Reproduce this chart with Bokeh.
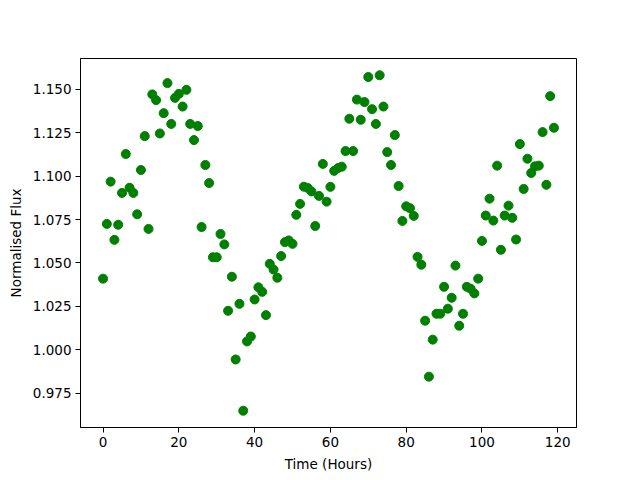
from bokeh.plotting import figure
from bokeh.models import Range1d, FixedTicker, NumeralTickFormatter
from bokeh.embed import file_html
from bokeh.resources import INLINE

time_hours = list(range(120))
flux = [
    1.041, 1.0725, 1.0968, 1.0633, 1.072, 1.0903, 1.1127, 1.0933, 1.0903, 1.078,
    1.1035, 1.123, 1.0696, 1.147, 1.1437, 1.1245, 1.1362, 1.1535, 1.130, 1.145,
    1.1473, 1.140, 1.1496, 1.130, 1.1207, 1.1288, 1.0707, 1.1064, 1.096, 1.0533,
    1.0533, 1.0667, 1.0607, 1.0225, 1.0421, 0.9945, 1.0265, 0.965, 1.0049, 1.0077,
    1.029, 1.036, 1.0334, 1.020, 1.0495, 1.0462, 1.0415, 1.054, 1.062, 1.063,
    1.061, 1.0777, 1.084, 1.0939, 1.0932, 1.0912, 1.0713, 1.0886, 1.107, 1.0853,
    1.0938, 1.103, 1.1046, 1.1054, 1.1144, 1.133, 1.1144, 1.144, 1.1324, 1.1426,
    1.157, 1.1385, 1.130, 1.158, 1.140, 1.1138, 1.1064, 1.1236, 1.0943, 1.0742,
    1.0826, 1.0815, 1.0771, 1.0535, 1.049, 1.0168, 0.9846, 1.0059, 1.0208, 1.0208,
    1.0363, 1.0237, 1.030, 1.0485, 1.0139, 1.0208, 1.0363, 1.0352, 1.0325, 1.041,
    1.0627, 1.0773, 1.087, 1.0744, 1.106, 1.0576, 1.0773, 1.083, 1.076, 1.0635,
    1.1184, 1.0926, 1.110, 1.1018, 1.1056, 1.106, 1.1253, 1.095, 1.146, 1.1278,
]
x_ticks = [0, 20, 40, 60, 80, 100, 120]
y_ticks = [0.975, 1.000, 1.025, 1.050, 1.075, 1.100, 1.125, 1.150]

xmin, xmax = min(time_hours), max(time_hours)
ymin, ymax = min(flux), max(flux)
xm = 0.05 * (xmax - xmin)
ym = 0.05 * (ymax - ymin)

p = figure(width=632, height=472, output_backend="svg", toolbar_location=None,
           x_range=Range1d(xmin - xm, xmax + xm), y_range=Range1d(ymin - ym, ymax + ym),
           frame_width=496, frame_height=369,
           min_border_left=80, min_border_top=58, min_border_right=56, min_border_bottom=45)

p.scatter(time_hours, flux, size=9, color="green", line_color="green")

p.xgrid.visible = False
p.ygrid.visible = False
p.outline_line_color = "black"
p.outline_line_width = 1
p.outline_line_alpha = 1

p.xaxis.ticker = FixedTicker(ticks=x_ticks)
p.yaxis.ticker = FixedTicker(ticks=y_ticks)
p.yaxis.formatter = NumeralTickFormatter(format="0.000")
p.xaxis.axis_label = "Time (Hours)"
p.yaxis.axis_label = "Normalised Flux"

for ax in (p.xaxis, p.yaxis):
    ax.axis_label_text_font = "DejaVu Sans"
    ax.axis_label_text_font_style = "normal"
    ax.axis_label_text_font_size = "13.5px"
    ax.major_label_text_font = "DejaVu Sans"
    ax.major_label_text_font_size = "13.5px"
    ax.major_label_text_color = "black"
    ax.axis_label_text_color = "black"
    ax.minor_tick_line_color = None
    ax.major_tick_in = 0
    ax.major_tick_out = 5
    ax.major_tick_line_color = "black"
    ax.axis_line_color = "black"
    ax.major_label_standoff = 4
p.xaxis.axis_label_standoff = 6
p.yaxis.axis_label_standoff = 6

open("out.html", "w").write(file_html(p, INLINE))
